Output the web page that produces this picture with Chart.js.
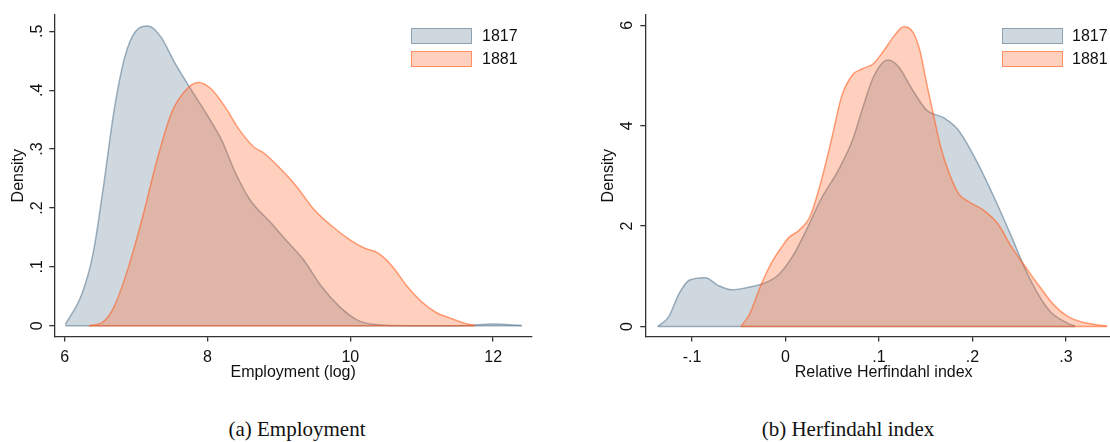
<!DOCTYPE html>
<html>
<head>
<meta charset="utf-8">
<script src="https://cdn.jsdelivr.net/npm/chart.js@4.4.0/dist/chart.umd.min.js"></script>
<style>
html,body{margin:0;padding:0;background:#fff;overflow:hidden;width:1110px;height:442px;position:relative}
canvas{position:absolute;top:0}
.sw{position:absolute;box-sizing:border-box;width:61px;height:16px;border:1.5px solid}
.lt{position:absolute;font:16px "Liberation Sans",Arial,sans-serif;line-height:16px;color:#111;white-space:nowrap}
.cap{position:absolute;top:417px;font:21px "Liberation Serif",serif;line-height:24px;color:#111;white-space:nowrap;transform:translateX(-50%)}
</style>
</head>
<body>
<canvas id="emp" width="555" height="390" style="left:0"></canvas>
<canvas id="herf" width="600" height="390" style="left:555px"></canvas>

<div class="sw" style="left:411px;top:28px" id="sw1"></div>
<div class="sw" style="left:411px;top:51px" id="sw2"></div>
<div class="lt" style="left:482px;top:28px">1817</div>
<div class="lt" style="left:482px;top:51px">1881</div>

<div class="sw" style="left:1002px;top:28px" id="sw3"></div>
<div class="sw" style="left:1002px;top:51px" id="sw4"></div>
<div class="lt" style="left:1072px;top:28px">1817</div>
<div class="lt" style="left:1072px;top:51px">1881</div>

<div class="cap" style="left:297px">(a) Employment</div>
<div class="cap" style="left:848px">(b) Herfindahl index</div>

<script>
// employment (log) densities
const empX1817=[6.01,6.245,6.4,6.545,6.695,6.845,6.995,7.17,7.345,7.545,7.745,7.995,8.195,8.395,8.595,8.895,9.095,9.345,9.595,9.845,10.095,10.345,10.845,11.6,12.0,12.4];
const empY1817=[0.002,0.055,0.123,0.237,0.367,0.457,0.5,0.509,0.491,0.446,0.406,0.358,0.316,0.259,0.214,0.174,0.146,0.112,0.067,0.033,0.010,0.002,0,0.0005,0.003,0.0005];
const empX1881=[6.345,6.545,6.695,6.895,7.095,7.295,7.495,7.695,7.87,8.045,8.245,8.445,8.645,8.795,8.995,9.245,9.495,9.745,9.995,10.195,10.395,10.595,10.795,10.995,11.195,11.395,11.595,11.745];
const empY1881=[0,0.007,0.033,0.1,0.186,0.282,0.361,0.4,0.413,0.403,0.372,0.333,0.304,0.293,0.27,0.237,0.197,0.169,0.146,0.132,0.123,0.1,0.067,0.041,0.023,0.013,0.0045,0.0005];

// relative herfindahl densities
const hhiX1817=[-0.1367,-0.125,-0.114,-0.103,-0.0856,-0.0723,-0.0572,-0.042,-0.023,-0.008,0.007,0.0223,0.0375,0.0564,0.0716,0.083,0.0943,0.1095,0.1208,0.136,0.151,0.17,0.185,0.204,0.223,0.242,0.257,0.272,0.2837,0.299,0.31];
const hhiY1817=[0,0.19,0.65,0.92,0.97,0.82,0.73,0.77,0.86,1.02,1.38,1.92,2.52,3.11,3.71,4.38,4.98,5.31,5.18,4.71,4.31,4.15,3.91,3.31,2.58,1.78,1.12,0.59,0.29,0.09,0];
const hhiX1881=[-0.0477,-0.0383,-0.027,-0.0155,-0.0042,0.0034,0.0148,0.026,0.0375,0.049,0.06,0.0716,0.083,0.0943,0.1057,0.117,0.1265,0.136,0.1436,0.151,0.1587,0.166,0.174,0.185,0.1966,0.2117,0.227,0.242,0.257,0.272,0.2875,0.3027,0.3216,0.344];
const hhiY1881=[0,0.25,0.79,1.25,1.58,1.77,1.92,2.18,2.85,3.71,4.58,5.01,5.14,5.24,5.51,5.81,5.97,5.87,5.51,4.84,4.18,3.58,3.11,2.65,2.48,2.32,2.05,1.58,1.18,0.79,0.42,0.19,0.067,0.007];

const empTicks=[6,8,10,12];
const empTickLabels=["6","8","10","12"];
const empYTicks=[0,0.1,0.2,0.3,0.4,0.5];
const empYTickLabels=["0",".1",".2",".3",".4",".5"];
const hhiTicks=[-0.1,0,0.1,0.2,0.3];
const hhiTickLabels=["-.1","0",".1",".2",".3"];
const hhiYTicks=[0,2,4,6];
const hhiYTickLabels=["0","2","4","6"];

const fill1817="rgba(95,125,148,0.3)", line1817="rgba(95,125,148,0.6)";
const fill1881="rgba(255,98,38,0.3)", line1881="rgba(255,98,38,0.6)";

for(const [id,f,l] of [["sw1",fill1817,line1817],["sw2",fill1881,line1881],["sw3",fill1817,line1817],["sw4",fill1881,line1881]]){
 let el=document.getElementById(id);
 el.style.background=f;
 el.style.borderColor=l;
}

const zip=(xs,ys)=>xs.map((x,i)=>({x:x,y:ys[i]}));
const axisCol="#333";
const font={family:"'Liberation Sans', Arial, sans-serif",size:16};

function density(xs,ys,fillCol,lineCol,order){
 return [{
  data:zip(xs,ys),fill:"origin",backgroundColor:fillCol,borderColor:lineCol,borderWidth:1.5,
  pointRadius:0,cubicInterpolationMode:"monotone",order:order
 },{
  // outline along the baseline
  data:[{x:xs[0],y:0},{x:xs[xs.length-1],y:0}],fill:false,borderColor:lineCol,borderWidth:1.5,
  pointRadius:0,order:order
 }];
}

function panel(id,p){
 new Chart(document.getElementById(id),{
  type:"line",
  data:{datasets:[
   ...density(p.x1817,p.y1817,fill1817,line1817,2),
   ...density(p.x1881,p.y1881,fill1881,line1881,1)
  ]},
  options:{
   responsive:false,animation:false,
   layout:{padding:{left:0,top:15,right:p.padRight,bottom:0}},
   plugins:{legend:{display:false},tooltip:{enabled:false}},
   scales:{
    x:{
     type:"linear",min:p.xmin,max:p.xmax,
     border:{color:axisCol,width:1.3},
     grid:{drawOnChartArea:false,drawTicks:true,tickLength:5,color:axisCol,lineWidth:1.3},
     afterBuildTicks:s=>{s.ticks=p.xt.map(v=>({value:v}));},
     afterFit:s=>{s.height=390-336.5;s.paddingLeft=0;s.paddingRight=0;},
     ticks:{padding:6,color:"#111",font:font,maxRotation:0,autoSkip:false,callback:(v,i)=>p.xl[i]},
     title:{display:true,text:p.xTitle,color:"#111",font:font,padding:{top:0,bottom:7.4}}
    },
    y:{
     type:"linear",min:p.ymin,max:p.ymax,
     border:{color:axisCol,width:1.3},
     grid:{drawOnChartArea:false,drawTicks:true,tickLength:5,color:axisCol,lineWidth:1.3},
     afterBuildTicks:s=>{s.ticks=p.yt.map(v=>({value:v}));},
     afterFit:s=>{s.width=p.yWidth;s.paddingTop=0;s.paddingBottom=0;},
     ticks:{padding:p.yPad,color:"#111",font:font,minRotation:90,maxRotation:90,crossAlign:"center",autoSkip:false,callback:(v,i)=>p.yl[i]},
     title:{display:true,text:"Density",color:"#111",font:font,padding:{top:p.yTitlePad,bottom:0}}
    }
   }
  }
 });
}

panel("emp",{
 x1817:empX1817,y1817:empY1817,x1881:empX1881,y1881:empY1881,
 xmin:5.856,xmax:12.544,ymin:-0.0182,ymax:0.5277,
 xt:empTicks,xl:empTickLabels,yt:empYTicks,yl:empYTickLabels,
 xTitle:"Employment (log)",padRight:23,yWidth:54.3,yPad:5,yTitlePad:9.2
});
panel("herf",{
 x1817:hhiX1817,y1817:hhiY1817,x1881:hhiX1881,y1881:hhiY1881,
 xmin:-0.15,xmax:0.36,ymin:-0.2,ymax:6.206,
 xt:hhiTicks,xl:hhiTickLabels,yt:hhiYTicks,yl:hhiYTickLabels,
 xTitle:"Relative Herfindahl index",padRight:33,yWidth:90.3,yPad:8,yTitlePad:44.4
});
</script>
</body>
</html>
